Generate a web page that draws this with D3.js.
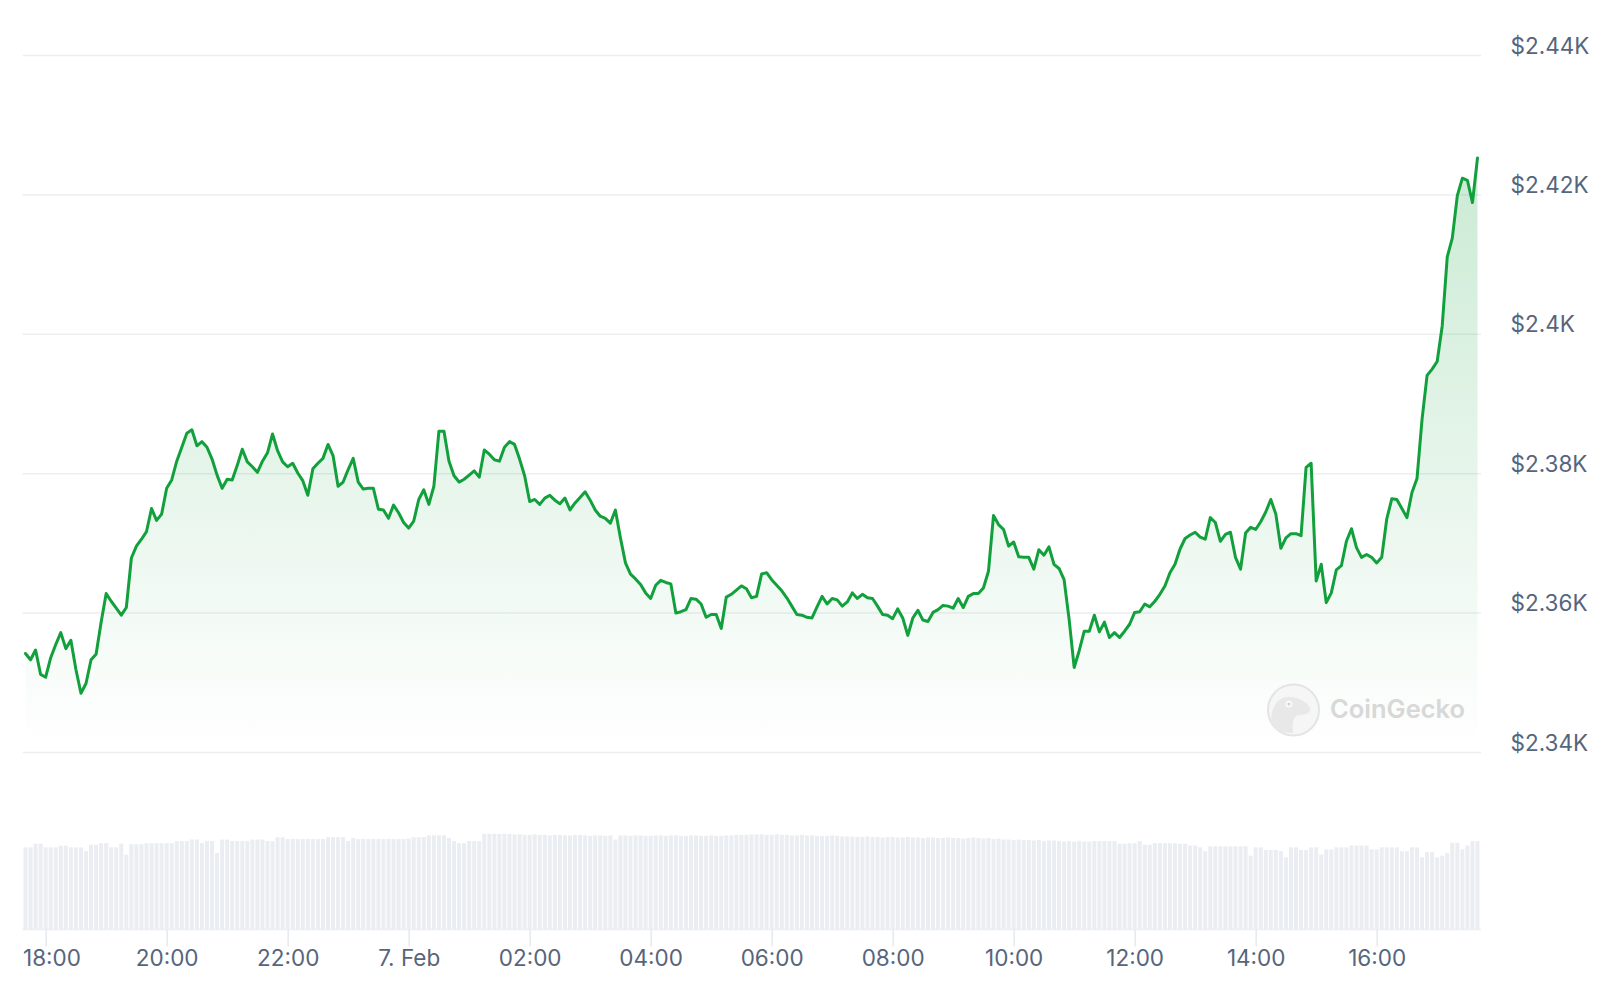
<!DOCTYPE html>
<html>
<head>
<meta charset="utf-8">
<script src="https://cdn.jsdelivr.net/npm/d3@7"></script>
<style>
  body { margin: 0; background: #fff; }
  svg { display: block; }
  text { font-family: Inter, "Noto Sans", "DejaVu Sans", sans-serif; }
</style>
</head>
<body>
<svg id="chart" width="1600" height="993"></svg>
<script>
// ETH price, 5-minute steps from 6 Feb 17:40 to 7 Feb 17:40 (UTC)
var startTime = Date.UTC(2024, 1, 6, 17, 40);
var stepMs = 5 * 60 * 1000;

var prices = [
  2354.2, 2353.3, 2354.7, 2351.2, 2350.8, 2353.6, 2355.5, 2357.2, 2354.9, 2356.1, 2351.9, 2348.5,
  2349.9, 2353.3, 2354.1, 2358.7, 2362.8, 2361.7, 2360.7, 2359.7, 2360.8, 2367.9, 2369.6, 2370.6,
  2371.7, 2375.0, 2373.3, 2374.2, 2377.9, 2379.1, 2381.8, 2383.8, 2385.8, 2386.3, 2384.0, 2384.6,
  2383.8, 2382.1, 2379.8, 2377.9, 2379.2, 2379.1, 2381.2, 2383.5, 2381.7, 2381.0, 2380.2, 2381.8,
  2383.0, 2385.7, 2383.3, 2381.7, 2381.0, 2381.5, 2380.1, 2379.0, 2376.9, 2380.7, 2381.5, 2382.2,
  2384.2, 2382.6, 2378.2, 2378.8, 2380.6, 2382.2, 2378.8, 2377.8, 2377.9, 2377.9, 2374.9, 2374.8,
  2373.6, 2375.5, 2374.4, 2373.0, 2372.2, 2373.2, 2376.3, 2377.7, 2375.6, 2378.2, 2386.1, 2386.1,
  2381.8, 2379.7, 2378.8, 2379.2, 2379.8, 2380.4, 2379.5, 2383.4, 2382.8, 2382.0, 2381.8, 2383.8,
  2384.6, 2384.2, 2382.1, 2379.7, 2376.0, 2376.3, 2375.6, 2376.5, 2376.9, 2376.2, 2375.7, 2376.5,
  2374.8, 2375.8, 2376.6, 2377.4, 2376.2, 2374.8, 2373.9, 2373.6, 2372.9, 2374.8, 2370.8, 2367.2,
  2365.6, 2364.9, 2364.1, 2362.9, 2362.1, 2364.0, 2364.7, 2364.4, 2364.2, 2360.0, 2360.2, 2360.5,
  2362.1, 2362.0, 2361.3, 2359.4, 2359.8, 2359.8, 2357.8, 2362.3, 2362.7, 2363.3, 2363.9, 2363.5,
  2362.2, 2362.4, 2365.6, 2365.8, 2364.8, 2364.0, 2363.2, 2362.2, 2361.0, 2359.8, 2359.7, 2359.4,
  2359.3, 2360.9, 2362.4, 2361.3, 2362.1, 2361.9, 2361.0, 2361.6, 2362.9, 2362.1, 2362.7, 2362.2,
  2362.1, 2361.0, 2359.8, 2359.7, 2359.2, 2360.6, 2359.3, 2356.8, 2359.3, 2360.4, 2359.0, 2358.8,
  2360.1, 2360.5, 2361.1, 2361.0, 2360.7, 2362.1, 2360.8, 2362.4, 2362.8, 2362.8, 2363.6, 2366.0,
  2374.0, 2372.7, 2372.0, 2369.6, 2370.2, 2368.1, 2368.0, 2368.0, 2366.3, 2369.1, 2368.3, 2369.5,
  2367.0, 2366.4, 2364.8, 2359.1, 2352.2, 2354.6, 2357.4, 2357.4, 2359.7, 2357.3, 2358.7, 2356.5,
  2357.2, 2356.5, 2357.4, 2358.4, 2360.1, 2360.2, 2361.3, 2360.9, 2361.7, 2362.7, 2363.9, 2365.8,
  2367.0, 2369.2, 2370.7, 2371.2, 2371.6, 2370.9, 2370.6, 2373.7, 2373.0, 2370.3, 2371.3, 2371.6,
  2368.0, 2366.3, 2371.5, 2372.3, 2372.0, 2373.1, 2374.5, 2376.3, 2374.2, 2369.3, 2370.8, 2371.4,
  2371.4, 2371.1, 2380.9, 2381.5, 2364.6, 2367.0, 2361.5, 2362.9, 2366.2, 2366.8, 2370.3, 2372.1,
  2369.4, 2368.0, 2368.4, 2368.0, 2367.2, 2368.0, 2373.5, 2376.4, 2376.3, 2375.0, 2373.7, 2377.3,
  2379.3, 2387.8, 2394.1, 2395.0, 2396.1, 2401.2, 2411.1, 2413.8, 2419.9, 2422.4, 2422.1, 2418.9, 2425.3
];

// 24h rolling volume, billions USD
var volumes = [
  15.8, 15.8, 16.5, 16.5, 15.8, 15.8, 15.8, 16.1, 16.1, 15.8, 15.8, 15.8,
  15.1, 16.3, 16.3, 16.6, 16.6, 15.8, 15.8, 16.5, 14.4, 16.4, 16.4, 16.4,
  16.6, 16.6, 16.6, 16.6, 16.6, 16.6, 17.0, 17.0, 17.0, 17.3, 17.3, 16.6,
  17.0, 17.0, 14.7, 17.3, 17.3, 17.0, 17.0, 17.0, 17.0, 17.3, 17.3, 17.3,
  17.0, 17.0, 17.75, 17.75, 17.4, 17.4, 17.4, 17.4, 17.4, 17.4, 17.4, 17.4,
  17.75, 17.75, 17.75, 17.75, 17.0, 17.6, 17.4, 17.4, 17.4, 17.4, 17.4, 17.4,
  17.4, 17.4, 17.4, 17.4, 17.5, 17.75, 17.75, 17.75, 18.1, 18.1, 18.1, 18.1,
  17.6, 17.0, 16.6, 16.6, 17.0, 17.0, 17.0, 18.4, 18.4, 18.4, 18.4, 18.4,
  18.4, 18.3, 18.3, 18.2, 18.2, 18.3, 18.2, 18.2, 18.1, 18.2, 18.2, 18.1,
  18.1, 18.2, 18.2, 18.1, 18.0, 18.1, 18.1, 18.0, 18.1, 17.3, 18.1, 18.1,
  18.0, 18.1, 18.1, 18.0, 18.0, 18.1, 18.1, 18.0, 18.1, 18.1, 18.0, 18.0,
  18.1, 18.1, 18.0, 18.0, 18.1, 18.0, 18.0, 18.1, 18.1, 18.2, 18.2, 18.2,
  18.3, 18.3, 18.3, 18.2, 18.2, 18.3, 18.2, 18.2, 18.1, 18.1, 18.2, 18.1,
  18.1, 18.0, 18.0, 18.0, 18.1, 18.0, 17.9, 17.9, 17.9, 17.8, 17.8, 17.9,
  17.8, 17.8, 17.7, 17.8, 17.8, 17.7, 17.7, 17.8, 17.7, 17.7, 17.6, 17.7,
  17.7, 17.6, 17.6, 17.7, 17.6, 17.6, 17.5, 17.6, 17.7, 17.6, 17.5, 17.6,
  17.4, 17.5, 17.3, 17.3, 17.2, 17.3, 17.2, 17.2, 17.1, 17.2, 17.0, 17.1,
  17.1, 17.0, 16.9, 17.0, 16.9, 17.0, 16.9, 16.9, 17.0, 17.0, 17.0, 17.0,
  17.0, 16.5, 16.5, 16.6, 16.6, 17.0, 16.3, 16.3, 16.6, 16.6, 16.6, 16.6,
  16.6, 16.5, 16.5, 16.15, 16.15, 15.8, 15.06, 16.0, 16.0, 16.0, 16.0, 16.0,
  16.0, 16.0, 16.0, 14.2, 15.8, 15.8, 15.3, 15.3, 15.3, 15.06, 13.9, 15.8,
  15.8, 15.3, 15.3, 15.8, 15.8, 14.4, 15.4, 15.4, 15.8, 15.8, 15.8, 16.15,
  16.15, 16.15, 16.15, 15.4, 15.4, 15.8, 15.8, 15.8, 15.8, 15.06, 15.06, 15.8,
  15.8, 13.9, 14.9, 14.9, 13.9, 14.2, 14.7, 16.7, 16.7, 15.4, 16.15, 17.0, 17.0
];

var yTicks = [2340, 2360, 2380, 2400, 2420, 2440];
var yTickLabels = ["$2.34K", "$2.36K", "$2.38K", "$2.4K", "$2.42K", "$2.44K"];

var xTicks = [
  Date.UTC(2024, 1, 6, 18), Date.UTC(2024, 1, 6, 20), Date.UTC(2024, 1, 6, 22),
  Date.UTC(2024, 1, 7, 0), Date.UTC(2024, 1, 7, 2), Date.UTC(2024, 1, 7, 4),
  Date.UTC(2024, 1, 7, 6), Date.UTC(2024, 1, 7, 8), Date.UTC(2024, 1, 7, 10),
  Date.UTC(2024, 1, 7, 12), Date.UTC(2024, 1, 7, 14), Date.UTC(2024, 1, 7, 16)
];
var xTickLabels = ["18:00", "20:00", "22:00", "7. Feb", "02:00", "04:00",
                   "06:00", "08:00", "10:00", "12:00", "14:00", "16:00"];

var lineColor = "#12a03c";
var textColor = "#56657d";
var gridColor = "#eceef2";
var labelSize = 22.5;

var plotLeft = 22.5, plotRight = 1481;

var series = prices.map(function(p, i) {
  return { t: new Date(startTime + i * stepMs), price: p, volume: volumes[i] };
});

var svg = d3.select("#chart");

var x = d3.scaleUtc()
  .domain([new Date(startTime), new Date(startTime + (prices.length - 1) * stepMs)])
  .range([25.5, 1477.5]);

var y = d3.scaleLinear().domain([2340, 2440]).range([752.5, 55.5]);
var yVol = d3.scaleLinear().domain([0, 20]).range([929.5, 825.5]);

// gradient for the price area
var defs = svg.append("defs");
var grad = defs.append("linearGradient")
  .attr("id", "areaFill")
  .attr("gradientUnits", "userSpaceOnUse")
  .attr("x1", 0).attr("x2", 0)
  .attr("y1", y(d3.max(prices))).attr("y2", y(2340));
grad.append("stop").attr("offset", 0).attr("stop-color", lineColor).attr("stop-opacity", 0.22);
grad.append("stop").attr("offset", 1).attr("stop-color", lineColor).attr("stop-opacity", 0);

defs.append("clipPath").attr("id", "plotClip")
  .append("rect")
  .attr("x", plotLeft).attr("y", 0)
  .attr("width", plotRight - plotLeft).attr("height", 993);

// horizontal grid + y labels
var yAxis = svg.append("g").attr("class", "y-axis");
yAxis.selectAll("line")
  .data(yTicks)
  .enter().append("line")
  .attr("x1", plotLeft).attr("x2", plotRight)
  .attr("y1", function(d) { return y(d); })
  .attr("y2", function(d) { return y(d); })
  .attr("stroke", gridColor)
  .attr("stroke-width", 1.5);

yAxis.selectAll("text")
  .data(yTicks)
  .enter().append("text")
  .attr("x", 1510.5)
  .attr("y", function(d) { return y(d) - 2; })
  .attr("fill", textColor)
  .attr("font-size", labelSize)
  .text(function(d, i) { return yTickLabels[i]; });

// volume bars
var barW = 4;
svg.append("g")
  .attr("clip-path", "url(#plotClip)")
  .selectAll("rect")
  .data(series)
  .enter().append("rect")
  .attr("x", function(d) { return x(d.t) - barW / 2; })
  .attr("width", barW)
  .attr("y", function(d) { return yVol(d.volume); })
  .attr("height", function(d) { return yVol(0) - yVol(d.volume); })
  .attr("fill", "#eaedf2");

// x axis
var xAxisG = svg.append("g")
  .attr("transform", "translate(0,929.5)")
  .call(d3.axisBottom(x)
    .tickValues(xTicks.map(function(t) { return new Date(t); }))
    .tickSize(17)
    .tickPadding(4)
    .tickFormat(function(d, i) { return xTickLabels[i]; }));

xAxisG.select(".domain")
  .attr("d", "M" + plotLeft + ",0H" + plotRight)
  .attr("stroke", gridColor)
  .attr("stroke-width", 1.5);
xAxisG.selectAll(".tick line").attr("stroke", "#e6e9ee").attr("stroke-width", 1.5);
xAxisG.selectAll(".tick text")
  .attr("fill", textColor)
  .attr("font-size", labelSize)
  .attr("font-family", "Inter, 'Noto Sans', sans-serif")
  .attr("dy", null)
  .attr("y", 36.5);

// keep the first label inside the chart
xAxisG.selectAll(".tick").each(function() {
  var t = d3.select(this).select("text");
  var tr = this.getAttribute("transform");
  var tx = parseFloat(tr.split("(")[1]);
  var bb = t.node().getBBox();
  if (tx + bb.x < plotLeft) {
    t.attr("x", plotLeft + 0.5 - tx - bb.x);
  }
});

// price area and line
var area = d3.area()
  .x(function(d) { return x(d.t); })
  .y0(y(2340))
  .y1(function(d) { return y(d.price); });

var line = d3.line()
  .x(function(d) { return x(d.t); })
  .y(function(d) { return y(d.price); });

svg.append("path")
  .datum(series)
  .attr("d", area)
  .attr("fill", "url(#areaFill)");

// watermark
var wm = svg.append("g").attr("opacity", 0.9);
wm.append("circle")
  .attr("cx", 1293.5).attr("cy", 710).attr("r", 25.5)
  .attr("fill", "#f6f6f6").attr("stroke", "#e2e2e2").attr("stroke-width", 2);
wm.append("path")
  .attr("d", "M1271,724 C1271,708 1276,697 1289,697 C1300,697 1308,703 1310,708 C1311,712 1307,715 1300,715 C1294,715 1292,720 1293,733 C1283,733 1274,730 1271,724 Z")
  .attr("fill", "#e6e6e6");
wm.append("circle").attr("cx", 1289).attr("cy", 704).attr("r", 3.5).attr("fill", "#fafafa");
wm.append("circle").attr("cx", 1289).attr("cy", 704).attr("r", 1.6).attr("fill", "#d0d0d0");
wm.append("text")
  .attr("x", 1330).attr("y", 718)
  .attr("fill", "#d4d4d4")
  .attr("font-size", 25.5)
  .attr("font-weight", 600)
  .text("CoinGecko");

svg.append("path")
  .datum(series)
  .attr("d", line)
  .attr("fill", "none")
  .attr("stroke", lineColor)
  .attr("stroke-width", 3)
  .attr("stroke-linejoin", "round")
  .attr("stroke-linecap", "round");
</script>
</body>
</html>
